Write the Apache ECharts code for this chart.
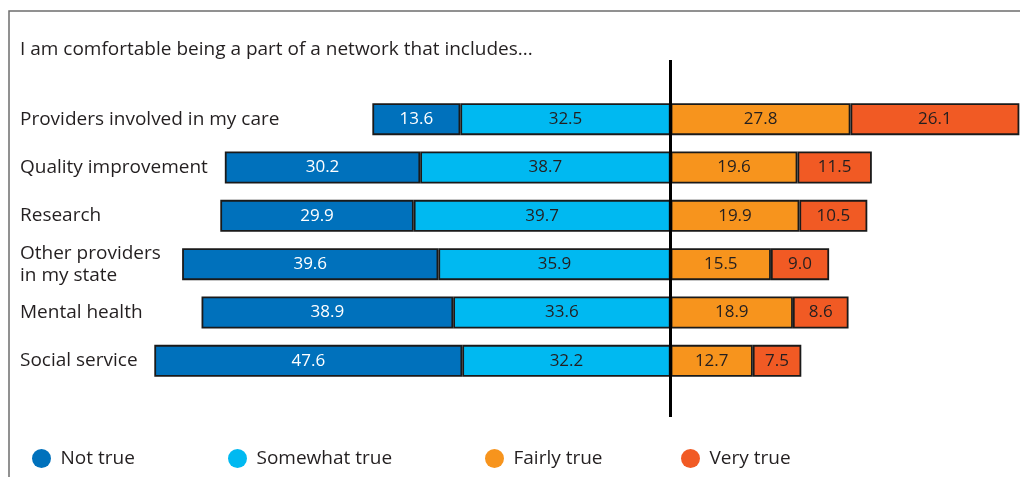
<!DOCTYPE html>
<html>
<head>
<meta charset="utf-8">
<script src="https://cdn.jsdelivr.net/npm/echarts@6/dist/echarts.min.js"></script>
<style>
  html, body { margin: 0; padding: 0; background: #fff; }
  #chart { width: 1020px; height: 477px; }
</style>
</head>
<body>
<div id="chart"></div>
<script>
// 数据
const categories = ['Providers involved in my care', 'Quality improvement', 'Research',
    'Other providers\nin my state', 'Mental health', 'Social service'];
const notTrue = [13.6, 30.2, 29.9, 39.6, 38.9, 47.6];
const somewhatTrue = [32.5, 38.7, 39.7, 35.9, 33.6, 32.2];
const fairlyTrue = [27.8, 19.6, 19.9, 15.5, 18.9, 12.7];
const veryTrue = [26.1, 11.5, 10.5, 9.0, 8.6, 7.5];

const colors = ['#0071bc', '#00b9f1', '#f7941d', '#f15a24'];
const FONT = '"Open Sans", "Noto Sans", sans-serif';

var chart = echarts.init(document.getElementById('chart'));

// 条形公共样式
function barSeries(name, values, color, negative, labelColor) {
    return {
        name: name,
        type: 'bar',
        stack: 'total',
        barWidth: 32,
        xAxisIndex: 0,
        yAxisIndex: 0,
        data: values.map(v => negative ? -v : v),
        itemStyle: { color: color, borderColor: '#1a1a1a', borderWidth: 1.8 },
        label: {
            show: true,
            position: 'inside',
            color: labelColor,
            fontFamily: FONT,
            fontSize: 17,
            formatter: p => Math.abs(p.value).toFixed(1)
        },
        emphasis: { disabled: true }
    };
}

function legendAt(left, name) {
    return {
        left: left,
        top: 444,
        icon: 'circle',
        itemWidth: 28,
        itemHeight: 19,
        data: [name],
        selectedMode: false,
        itemStyle: { borderWidth: 0 },
        textStyle: { fontFamily: FONT, fontSize: 19, color: '#231f20' }
    };
}

var option = {
    animation: false,
    title: {
        text: 'I am comfortable being a part of a network that includes...',
        left: 15,
        top: 35,
        textStyle: { fontFamily: FONT, fontSize: 19, fontWeight: 'normal', color: '#231f20' }
    },
    graphic: [{
        type: 'rect',
        shape: { x: 9, y: 11, width: 1200, height: 700 },
        style: { fill: 'none', stroke: '#6d6d6d', lineWidth: 1.5 },
        silent: true
    }],
    legend: [
        legendAt(27, 'Not true'),
        legendAt(223, 'Somewhat true'),
        legendAt(480, 'Fairly true'),
        legendAt(676, 'Very true')
    ],
    grid: [
        { left: 153, right: 0, top: 95, height: 290 },
        { left: 153, right: 0, top: 60, height: 357 }
    ],
    xAxis: [
        { type: 'value', gridIndex: 0, min: -80, max: 54, show: false },
        { type: 'value', gridIndex: 1, min: -80, max: 54, show: false }
    ],
    yAxis: [
        {
            type: 'category',
            gridIndex: 0,
            data: categories,
            inverse: true,
            axisLine: { show: false },
            axisTick: { show: false },
            splitLine: { show: false },
            axisLabel: {
                align: 'left',
                margin: 133,
                fontFamily: FONT,
                fontSize: 19,
                lineHeight: 22,
                color: '#231f20',
                padding: [0, 0, 14, 0]
            }
        },
        { type: 'value', gridIndex: 1, min: 0, max: 1, show: false }
    ],
    series: [
        barSeries('Somewhat true', somewhatTrue, colors[1], true, '#231f20'),
        barSeries('Not true', notTrue, colors[0], true, '#ffffff'),
        barSeries('Fairly true', fairlyTrue, colors[2], false, '#231f20'),
        barSeries('Very true', veryTrue, colors[3], false, '#231f20'),
        {
            // 中心竖线
            name: 'center',
            type: 'line',
            xAxisIndex: 1,
            yAxisIndex: 1,
            data: [],
            z: 10,
            markLine: {
                symbol: 'none',
                silent: true,
                label: { show: false },
                lineStyle: { color: '#000', width: 3, type: 'solid' },
                data: [{ xAxis: 0 }]
            }
        }
    ]
};

chart.setOption(option);
</script>
</body>
</html>
